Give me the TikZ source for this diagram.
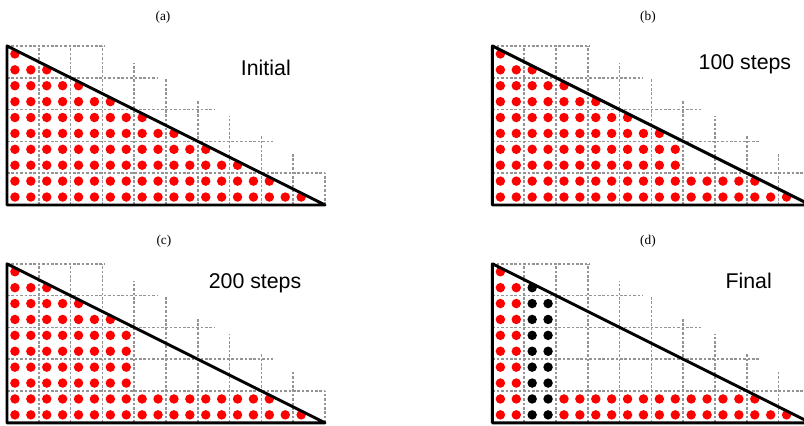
\documentclass[tikz,border=0pt]{standalone}
\usepackage{fontspec}
\usepackage{tikz}
\newfontfamily\panelfont{Liberation Sans}
\newfontfamily\tagfont{Liberation Serif}

% dashed staircase grid under one triangle
\newcommand{\stairgrid}{%
  \foreach \gx/\gtop in {2/10,4/10,6/10,8/8.9,10/8,12/6.6,14/5.6,16/4.35,18/3.2,20/2}
    \draw[gridline] (\gx,0) -- (\gx,\gtop);
  \foreach \gy/\gend in {10/6.15,8/9.5,6/13.1,4/16.75,2/20}
    \draw[gridline] (0,\gy) -- (\gend,\gy);
}
% row/first/last column of dots
\newcommand{\dotrun}[2]{%
  \foreach \r/\a/\b in {#2}
    \foreach \c in {\a,...,\b}
      \fill[#1] (\c-0.5,9.5-\r) circle[radius=3.55pt];
}
\newcommand{\wedgeedge}{\draw[edge] (0,10) -- (0,0) -- (20,0) -- cycle;}

\begin{document}
\begin{tikzpicture}[
    x=11.925pt, y=11.925pt,
    gridline/.style={
        draw=black!42,
        line width=1.2pt,
        dash pattern=on 2pt off 1.3pt
    },
    edge/.style={
        draw=black,
        line width=2.2pt,
        line join=round
    },
    reddot/.style={fill=red},
    blackdot/.style={fill=black},
    tag/.style={font=\tagfont\fontsize{10}{12}\selectfont, inner sep=0pt},
    stage/.style={
        font=\panelfont\fontsize{16}{19}\selectfont,
        anchor=base,
        inner sep=0pt
    }
]
\useasboundingbox (0,0) rectangle (50.566,26.792);
\clip (0,0) rectangle (50.566,26.792);

\node[tag] (tagA) at (10.25,25.72) {(a)};
\node[tag] (tagB) at (40.75,25.72) {(b)};
\node[tag] (tagC) at (10.31,11.64) {(c)};
\node[tag] (tagD) at (40.75,11.64) {(d)};

% (a)
\begin{scope}[shift={(0.44,13.9)}]
\stairgrid
\dotrun{reddot}{0/1/1,1/1/3,2/1/5,3/1/7,4/1/9,5/1/11,6/1/13,7/1/15,8/1/17,9/1/19}
\wedgeedge
\node[stage] (stageA) at (16.28,8.13) {Initial};
\end{scope}

% (b)
\begin{scope}[shift={(30.97,13.9)}]
\stairgrid
\dotrun{reddot}{0/1/1,1/1/3,2/1/5,3/1/7,4/1/9,5/1/11,6/1/12,7/1/12,8/1/17,9/1/19}
\wedgeedge
\node[stage] (stageB) at (15.88,8.53) {100 steps};
\end{scope}

% (c)
\begin{scope}[shift={(0.44,0.2)}]
\stairgrid
\dotrun{reddot}{0/1/1,1/1/3,2/1/5,3/1/7,4/1/8,5/1/8,6/1/8,7/1/8,8/1/17,9/1/19}
\wedgeedge
\node[stage] (stageC) at (15.6,8.43) {200 steps};
\end{scope}

% (d)
\begin{scope}[shift={(30.97,0.2)}]
\stairgrid
\dotrun{reddot}{0/1/1,1/1/2,2/1/2,3/1/2,4/1/2,5/1/2,6/1/2,7/1/2,8/1/2,9/1/2,8/5/17,9/5/19}
\dotrun{blackdot}{1/3/3,2/3/4,3/3/4,4/3/4,5/3/4,6/3/4,7/3/4,8/3/4,9/3/4}
\wedgeedge
\node[stage] (stageD) at (16.12,8.47) {Final};
\end{scope}

\end{tikzpicture}
\end{document}
